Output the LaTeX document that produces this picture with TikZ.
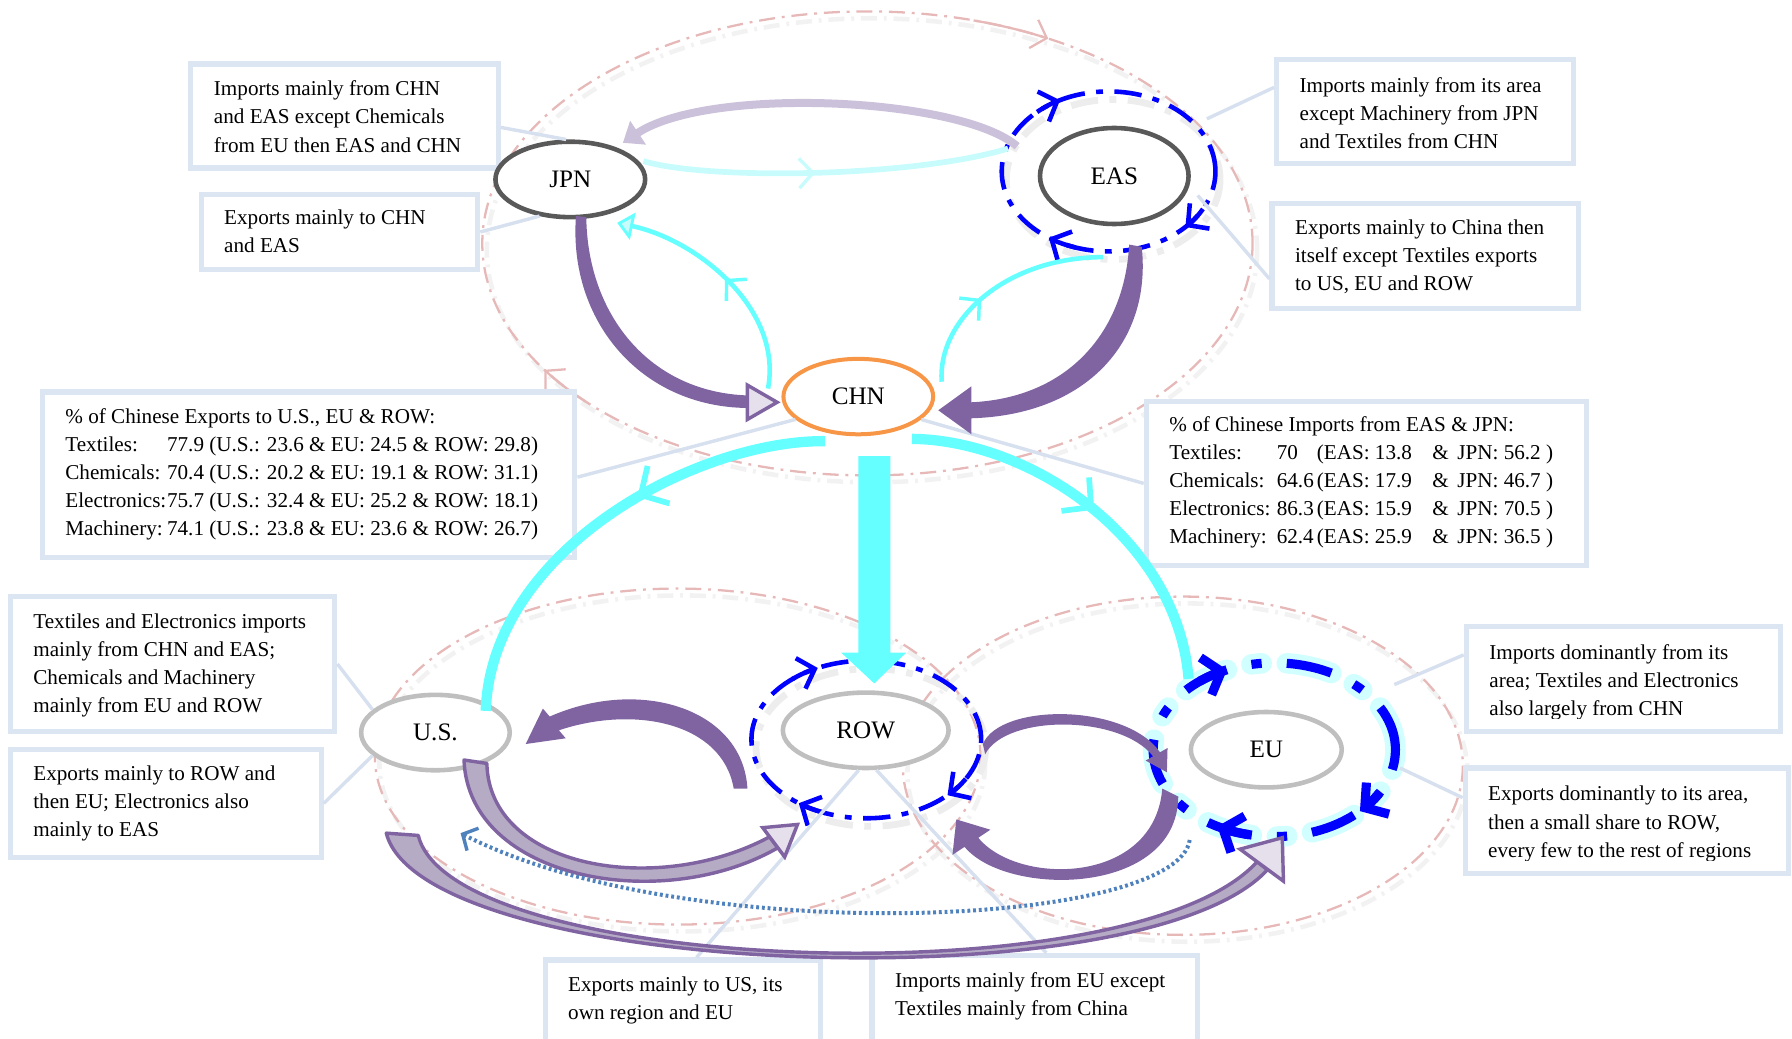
\documentclass[tikz,border=0pt]{standalone}
\usepackage{fontspec}
\setmainfont{Liberation Serif}
\usetikzlibrary{shapes.geometric,arrows.meta,decorations.markings}
\definecolor{purp}{HTML}{8064A2}
\definecolor{lav}{HTML}{E6E0EC}
\definecolor{lavline}{HTML}{CCC1DA}
\definecolor{shaftfill}{HTML}{B5ABC4}
\definecolor{cyn}{HTML}{66FFFF}
\definecolor{palecyn}{HTML}{C8FCFC}
\definecolor{ringblue}{HTML}{0000FF}
\definecolor{pinkd}{HTML}{E6B9B8}
\definecolor{boxline}{HTML}{DCE6F2}
\definecolor{leaderc}{HTML}{D6E0EE}
\definecolor{orng}{HTML}{F79646}
\definecolor{dgray}{HTML}{595959}
\definecolor{lgray}{HTML}{BFBFBF}
\definecolor{dotblue}{HTML}{4F81BD}
\tikzset{
  region/.style={ellipse, draw, line width=4pt, inner sep=0pt, fill=white, font=\fontsize{22}{26}\selectfont},
  infobox/.style={rectangle, draw=boxline, line width=4.5pt, fill=white, inner sep=0pt},
  infotext/.style={anchor=west, align=left, inner sep=0pt, font=\fontsize{18.5}{24.6}\selectfont},
  leader/.style={draw=leaderc, line width=3pt},
  bigloop/.style={draw=pinkd, line width=2pt, dash pattern=on 14pt off 6pt on 2.5pt off 6pt},
  loopshade/.style={draw=black!5, line width=4pt, dash pattern=on 14pt off 6pt on 2.5pt off 6pt},
  ringnode/.style={ellipse, draw=ringblue, line width=4pt, inner sep=0pt, dash pattern=on 24pt off 10pt on 6pt off 10pt},
  ringtip/.style={draw=ringblue, line width=4pt, -{Straight Barb[length=13pt,width=28pt]}},
  bshaft/.style={fill=shaftfill, draw=purp, line width=3pt, line join=round},
  bhead/.style={fill=lav, draw=purp, line width=3pt, line join=miter},
  cyanthick/.style={color=cyn, line width=9pt},
  cyanthin/.style={color=cyn, line width=4pt},
  midtip/.style={postaction={decorate}, decoration={markings, mark=at position #1 with {\arrow{Straight Barb[length=18pt,width=38pt,line width=5pt]}}}},
  thintip/.style={postaction={decorate}, decoration={markings, mark=at position #1 with {\arrow{Straight Barb[length=12pt,width=26pt,line width=3pt]}}}}
}
\begin{document}
\begin{tikzpicture}[x=1pt,y=-1pt]
\useasboundingbox (0,0) rectangle (1568,909);
\clip (0,0) rectangle (1568,909);

% big dash-dot loops with soft shadows
\draw[loopshade, shift={(4,6)}] (759,213) ellipse [x radius=337, y radius=203];
\draw[loopshade, shift={(4,6)}] (593,662) ellipse [x radius=265, y radius=147];
\draw[loopshade, shift={(4,6)}] (1035,670) ellipse [x radius=245, y radius=148];
\draw[bigloop] (759,213) ellipse [x radius=337, y radius=203];
\draw[bigloop] (593,662) ellipse [x radius=265, y radius=147];
\draw[bigloop] (1035,670) ellipse [x radius=245, y radius=148];
\draw[draw=pinkd, line width=2pt, -{Straight Barb[length=12pt,width=26pt]}] (759,213) ++(286:337 and 203) arc[start angle=286, end angle=298, x radius=337, y radius=203];
\draw[draw=pinkd, line width=2pt, -{Straight Barb[length=12pt,width=26pt]}] (759,213) ++(137:337 and 203) arc[start angle=137, end angle=147, x radius=337, y radius=203];

% text boxes
\node[infobox, minimum width=269, minimum height=91] (b1) at (301.5,101.5) {};
\node[infobox, minimum width=242, minimum height=66] (b2) at (297,203) {};
\node[infobox, minimum width=260, minimum height=91] (b3) at (1247,97.5) {};
\node[infobox, minimum width=268, minimum height=92] (b4) at (1247,224) {};
\node[infobox, minimum width=466, minimum height=145] (b5) at (270,415.5) {};
\node[infobox, minimum width=385, minimum height=144] (b6) at (1195.5,423) {};
\node[infobox, minimum width=284, minimum height=118] (b7) at (151,581) {};
\node[infobox, minimum width=272, minimum height=94] (b8) at (145,703) {};
\node[infobox, minimum width=275, minimum height=92] (b9) at (1420.5,594) {};
\node[infobox, minimum width=283, minimum height=92] (b10) at (1423.5,718) {};
\node[infobox, minimum width=241, minimum height=85] (b11) at (597.5,882.5) {};
\node[infobox, minimum width=285, minimum height=89] (b12) at (905.5,880.5) {};

\node[infotext] (t1) at (187,102) {Imports mainly from CHN\\and EAS except Chemicals\\from EU then EAS and CHN};
\node[infotext] (t2) at (196,202.5) {Exports mainly to CHN\\and EAS};
\node[infotext] (t3) at (1137,99) {Imports mainly from its area\\except Machinery from JPN\\and Textiles from CHN};
\node[infotext] (t4) at (1133,225) {Exports mainly to China then\\itself except Textiles exports\\to US, EU and ROW};
\node[infotext] (t5) at (57,415) {\% of Chinese Exports to U.S., EU \& ROW:\\
\makebox[89pt][l]{Textiles:}77.9 (U.S.: 23.6 \& EU: 24.5 \& ROW: 29.8)\\
\makebox[89pt][l]{Chemicals:}70.4 (U.S.: 20.2 \& EU: 19.1 \& ROW: 31.1)\\
\makebox[89pt][l]{Electronics:}75.7 (U.S.: 32.4 \& EU: 25.2 \& ROW: 18.1)\\
\makebox[89pt][l]{Machinery:}74.1 (U.S.: 23.8 \& EU: 23.6 \& ROW: 26.7)};
\node[infotext] (t6) at (1023,422) {\% of Chinese Imports from EAS \& JPN:\\
\makebox[94pt][l]{Textiles:}\makebox[35pt][l]{70}\makebox[101pt][l]{(EAS: 13.8}\makebox[22pt][l]{\&}JPN: 56.2 )\\
\makebox[94pt][l]{Chemicals:}\makebox[35pt][l]{64.6}\makebox[101pt][l]{(EAS: 17.9}\makebox[22pt][l]{\&}JPN: 46.7 )\\
\makebox[94pt][l]{Electronics:}\makebox[35pt][l]{86.3}\makebox[101pt][l]{(EAS: 15.9}\makebox[22pt][l]{\&}JPN: 70.5 )\\
\makebox[94pt][l]{Machinery:}\makebox[35pt][l]{62.4}\makebox[101pt][l]{(EAS: 25.9}\makebox[22pt][l]{\&}JPN: 36.5 )};
\node[infotext] (t7) at (29,582) {Textiles and Electronics imports\\mainly from CHN and EAS;\\Chemicals and Machinery\\mainly from EU and ROW};
\node[infotext] (t8) at (29,703) {Exports mainly to ROW and\\then EU; Electronics also\\mainly to EAS};
\begin{scope}
\clip (1285,550) rectangle (1556,629);
\node[infotext] (t9) at (1303,597) {Imports dominantly from its\\area; Textiles and Electronics\\also largely from CHN};
\end{scope}
\begin{scope}
\clip (1284,674) rectangle (1563,753);
\node[infotext] (t10) at (1302,721) {Exports dominantly to its area,\\then a small share to ROW,\\every few to the rest of regions};
\end{scope}
\node[infotext] (t11) at (497,875.5) {Exports mainly to US, its\\own region and EU};
\node[infotext] (t12) at (783,871.5) {Imports mainly from EU except\\Textiles mainly from China};

% blue self-trade rings
\draw[draw=black!7, line width=6pt, dash pattern=on 24pt off 10pt on 6pt off 10pt, shift={(4,7)}] (970,150) ellipse [x radius=93.5, y radius=70];
\draw[draw=black!7, line width=6pt, dash pattern=on 24pt off 10pt on 6pt off 10pt, shift={(4,7)}] (758,647) ellipse [x radius=100.5, y radius=69];
\node[ringnode, minimum width=187, minimum height=140] (easring) at (970,150) {};
\node[ringnode, minimum width=201, minimum height=138] (rowring) at (758,647) {};
\node[ellipse, inner sep=0pt, draw=cyn, line width=18pt, line cap=round, opacity=.3, dash pattern=on 40pt off 22pt on 9pt off 22pt, minimum width=212, minimum height=152] (euglow) at (1115,656) {};
\node[ringnode, line width=8pt, dash pattern=on 40pt off 22pt on 9pt off 22pt, minimum width=212, minimum height=152] (euring) at (1115,656) {};

\draw[ringtip] (easring.center) ++(228:93.5 and 70) arc[start angle=228, end angle=243, x radius=93.5, y radius=70];
\draw[ringtip] (easring.center) ++(28:93.5 and 70) arc[start angle=28, end angle=44, x radius=93.5, y radius=70];
\draw[ringtip] (easring.center) ++(108:93.5 and 70) arc[start angle=108, end angle=124, x radius=93.5, y radius=70];
\draw[ringtip] (rowring.center) ++(230:100.5 and 69) arc[start angle=230, end angle=245, x radius=100.5, y radius=69];
\draw[ringtip] (rowring.center) ++(30:100.5 and 69) arc[start angle=30, end angle=45, x radius=100.5, y radius=69];
\draw[ringtip] (rowring.center) ++(111:100.5 and 69) arc[start angle=111, end angle=126, x radius=100.5, y radius=69];
\draw[draw=ringblue, line width=8pt, -{Straight Barb[length=14pt,width=34pt]}] (euring.center) ++(232:106 and 76) arc[start angle=232, end angle=247, x radius=106, y radius=76];
\draw[draw=ringblue, line width=8pt, -{Straight Barb[length=14pt,width=34pt]}] (euring.center) ++(30:106 and 76) arc[start angle=30, end angle=45, x radius=106, y radius=76];
\draw[draw=ringblue, line width=8pt, -{Straight Barb[length=14pt,width=34pt]}] (euring.center) ++(102:106 and 76) arc[start angle=102, end angle=118, x radius=106, y radius=76];

% region nodes
\node[region, draw=dgray, minimum width=131, minimum height=66] (jpn) at (499,157) {JPN};
\node[region, draw=dgray, minimum width=130, minimum height=84] (eas) at (975,154) {EAS};
\node[region, draw=orng, line width=3.5pt, minimum width=131, minimum height=66] (chn) at (751,347) {CHN};
\node[region, draw=lgray, minimum width=130, minimum height=66] (us) at (381,641) {U.S.};
\node[region, draw=lgray, minimum width=145, minimum height=66] (row) at (757.5,639) {ROW};
\node[region, draw=lgray, minimum width=132, minimum height=66] (eu) at (1108,656) {EU};

% leader lines
\draw[leader] ([yshift=-10pt]b1.east) -- (jpn.96);
\draw[leader] (b2.east) -- (jpn.-130);
\draw[leader] ([yshift=21pt]b3.west) -- (1056,104);
\draw[leader] ([yshift=-20pt]b4.west) -- (1048,171);
\draw[leader] ([yshift=-2pt]b5.east) -- (chn.-160);
\draw[leader] (b6.west) -- (chn.-20);
\draw[leader] (b7.east) -- (us.160);
\draw[leader] (b8.east) -- (us.-160);
\draw[leader] ([yshift=21pt]b9.west) -- (1220,599);
\draw[leader] ([yshift=20pt]b10.west) -- (1225,672);
\draw[leader] ([xshift=12pt]b11.north) -- (row.-100);
\draw[leader] ([xshift=10pt]b12.north) -- (row.-75);

% JPN <-> EAS
\draw[color=palecyn, line width=5pt, thintip=0.47] (563,141) .. controls (620,158) and (800,155) .. (882,130);
\draw[color=lavline, line width=7pt, -{Triangle[length=16pt,width=24pt]}] (890,128) .. controls (840,85) and (620,75) .. (545,125);

% JPN -> CHN (block arrow)
\fill[purp] (504,189) .. controls (497,280) and (560,356) .. (654,357) -- (654,346) .. controls (568,343) and (514,275) .. (513,190) -- cycle;
\draw[bhead] (654,337) -- (680,352) -- (654,367) -- cycle;
% CHN -> JPN
\draw[cyanthin, thintip=0.5, -{Triangle[length=14pt,width=24pt,fill=palecyn,line width=2.5pt]}] (672,340) .. controls (685,270) and (610,210) .. (540,195);
% CHN -> EAS
\draw[cyanthin, thintip=0.42] (824,334) .. controls (820,280) and (880,225) .. (965,225);
% EAS -> CHN
\fill[purp] (988,214) -- (999,216) .. controls (1008,300) and (950,363) .. (850,366) -- (850,380) -- (821,359) -- (850,338) -- (850,352) .. controls (935,348) and (984,290) .. (988,214) -- cycle;

% CHN -> U.S., ROW, EU
\draw[cyanthick, midtip=0.42] (722,386) .. controls (610,385) and (430,480) .. (425,622);
\draw[cyanthick, midtip=0.5] (798,384) .. controls (900,385) and (1030,470) .. (1040,594);
\fill[cyn] (751,399) -- (779,399) -- (779,571) -- (793,571) -- (765,598) -- (736,571) -- (751,571) -- cycle;

% ROW -> U.S.
\fill[purp] (654,690) .. controls (650,620) and (560,592) .. (481,627) -- (475,620) -- (460,651) -- (495,646) -- (489,639) .. controls (555,617) and (632,632) .. (642,690) -- cycle;
% U.S. -> ROW
\draw[bshaft] (406,665) .. controls (410,770) and (580,800) .. (680.6,741.8) -- (673.4,732.2) .. controls (575,785) and (428,760) .. (426,668) -- cycle;
\draw[bhead] (667.4,724.2) -- (697.8,721.4) -- (686.6,749.8) -- cycle;
% U.S. -> EU
\draw[bshaft] (338,729) .. controls (370,855) and (1000,880) .. (1109,761) -- (1100,754) .. controls (990,875) and (395,852) .. (366,731) -- cycle;
\draw[bhead] (1085,743) -- (1122,733) -- (1123,771) -- cycle;
% ROW -> EU
\fill[purp] (860,651) .. controls (875,615) and (985,615) .. (1015,658.25) -- (1021.6,654.5) -- (1021,675.7) -- (1002.4,665.5) -- (1009,661.75) .. controls (980,625) and (880,625) .. (862,660) -- cycle;
% EU -> ROW
\fill[purp] (1031,697) .. controls (1030,785) and (880,785) .. (844,741) -- (833.4,748) -- (836.8,717) -- (866.6,726) -- (856,733) .. controls (890,775) and (1010,775) .. (1017,690) -- cycle;
% EU -> U.S. (dotted)
\draw[dotblue, line width=3.5pt, dash pattern=on 2.5pt off 2.5pt, -{Straight Barb[length=10pt,width=22pt,line width=3pt]}] (1041,735) .. controls (1030,812) and (600,830) .. (403,729);
\end{tikzpicture}
\end{document}
